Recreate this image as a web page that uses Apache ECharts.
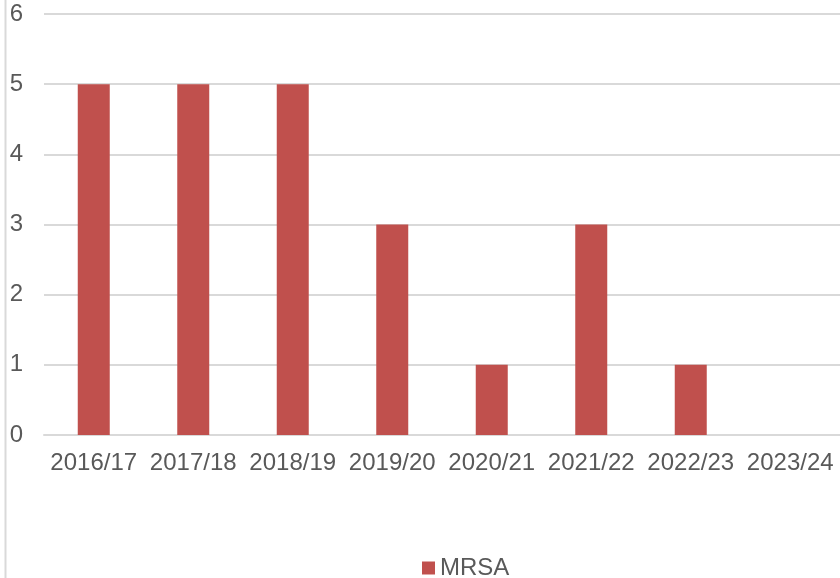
<!DOCTYPE html>
<html>
<head>
<meta charset="utf-8">
<script src="https://cdn.jsdelivr.net/npm/echarts@6/dist/echarts.min.js"></script>
<style>
    html, body { margin: 0; padding: 0; background: #fff; }
    #chart { width: 840px; height: 578px; }
</style>
</head>
<body>
<div id="chart"></div>
<script>
    // MRSA cases per year
    var years = ['2016/17', '2017/18', '2018/19', '2019/20', '2020/21', '2021/22', '2022/23', '2023/24'];
    var mrsa = [5, 5, 5, 3, 1, 3, 1, 0];
    var seriesName = 'MRSA';

    var chart = echarts.init(document.getElementById('chart'));

    var option = {
        animation: false,
        textStyle: { fontFamily: 'Liberation Sans, Arial, sans-serif' },
        grid: { left: 44, top: 14, width: 800, height: 421 },
        graphic: [{
            type: 'line',
            shape: { x1: 5.5, y1: 0, x2: 5.5, y2: 578 },
            style: { stroke: '#d9d9d9', lineWidth: 2 }
        }],
        legend: {
            left: 417,
            top: 551,
            itemWidth: 13,
            itemHeight: 13,
            itemGap: 10,
            icon: 'rect',
            textStyle: { fontSize: 24, color: '#595959' },
            data: [seriesName]
        },
        xAxis: {
            type: 'category',
            data: years,
            axisTick: { show: false },
            axisLine: { lineStyle: { color: '#d9d9d9', width: 2 } },
            axisLabel: { fontSize: 24, color: '#595959', margin: 16, interval: 0 }
        },
        yAxis: {
            type: 'value',
            min: 0,
            max: 6,
            interval: 1,
            axisLine: { show: false },
            axisTick: { show: false },
            splitLine: { lineStyle: { color: '#d9d9d9', width: 2 } },
            axisLabel: { fontSize: 24, color: '#595959', margin: 21, padding: [6, 0, 0, 0] }
        },
        series: [{
            name: seriesName,
            type: 'bar',
            data: mrsa,
            barWidth: 32,
            itemStyle: { color: '#c0504d' }
        }]
    };

    chart.setOption(option);
</script>
</body>
</html>
